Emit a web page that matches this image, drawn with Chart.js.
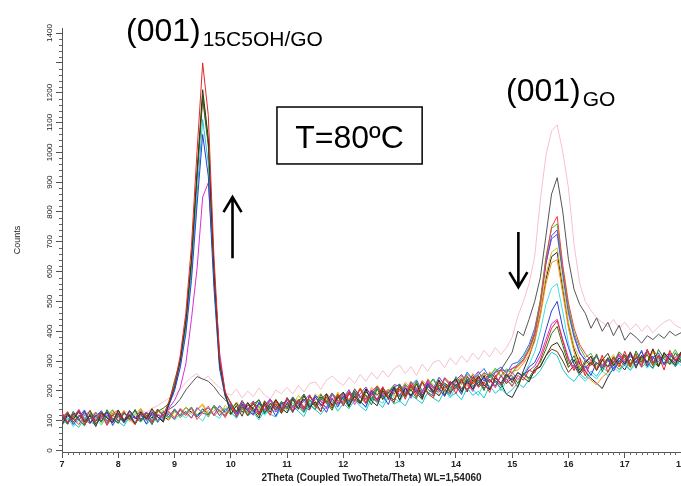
<!DOCTYPE html>
<html><head><meta charset="utf-8">
<script src="https://cdn.jsdelivr.net/npm/chart.js@4.4.1/dist/chart.umd.min.js"></script>
<style>html,body{margin:0;padding:0;background:#fff;}canvas{display:block;}</style>
</head><body>
<canvas id="c" width="681" height="486"></canvas>
<script>
// 2Theta grid (degrees)
const twoTheta = [
7.0,7.1,7.2,7.3,7.4,7.5,7.6,7.7,7.8,7.9,
8.0,8.1,8.2,8.3,8.4,8.5,8.6,8.7,8.8,8.9,
9.0,9.1,9.2,9.3,9.4,9.5,9.6,9.7,9.8,9.9,
10.0,10.1,10.2,10.3,10.4,10.5,10.6,10.7,10.8,10.9,
11.0,11.1,11.2,11.3,11.4,11.5,11.6,11.7,11.8,11.9,
12.0,12.1,12.2,12.3,12.4,12.5,12.6,12.7,12.8,12.9,
13.0,13.1,13.2,13.3,13.4,13.5,13.6,13.7,13.8,13.9,
14.0,14.1,14.2,14.3,14.4,14.5,14.6,14.7,14.8,14.9,
15.0,15.1,15.2,15.3,15.4,15.5,15.6,15.7,15.8,15.9,
16.0,16.1,16.2,16.3,16.4,16.5,16.6,16.7,16.8,16.9,
17.0,17.1,17.2,17.3,17.4,17.5,17.6,17.7,17.8,17.9,
18.0];

// intercalated scans (peak at ~9.5)
const scanRed = [
128,92,115,134,88,110,97,125,84,119,
98,131,106,87,124,112,93,135,117,165,
222,317,460,685,1004,1300,1124,653,313,196,
158,112,147,119,160,124,152,118,166,131,
175,133,170,141,183,150,132,179,147,190,
151,196,163,208,158,192,170,214,176,163,
214,172,221,181,230,190,176,227,199,233,
190,238,201,247,212,229,195,252,221,240,
215,252,236,270,260,304,357,410,435,366,
303,268,312,250,298,271,320,262,309,280,
333,285,324,279,340,292,318,270,336,301,
322];
const scanOlive = [
86,121,104,132,95,117,80,126,109,93,
136,99,120,88,129,105,140,113,95,159,
214,302,434,642,937,1210,1048,613,298,190,
122,150,115,161,136,109,158,128,170,141,
126,172,138,184,145,163,130,189,152,177,
196,148,182,159,205,166,150,201,174,213,
168,209,182,224,176,215,197,236,185,221,
240,196,232,205,251,219,204,243,226,258,
228,262,244,230,271,280,318,352,362,330,
279,305,261,294,316,268,303,326,284,311,
290,331,276,320,295,341,282,329,304,287,
331];
const scanDarkGreen = [
117,90,131,101,83,124,112,95,137,106,
91,127,104,138,99,119,87,131,142,158,
235,299,428,632,922,1190,1031,604,295,189,
161,129,153,116,144,170,123,157,135,165,
140,178,153,129,171,146,188,160,135,181,
174,145,198,160,186,153,207,171,195,160,
222,181,205,174,230,195,183,218,206,191,
222,199,247,214,236,201,255,230,210,248,
251,226,259,243,275,296,340,392,416,352,
289,318,270,301,285,324,265,307,293,331,
312,280,334,298,321,285,339,306,290,328,
299];
const scanBlue = [
102,124,87,113,136,92,118,99,129,84,
117,95,133,107,124,89,128,112,100,153,
201,277,390,570,824,1060,920,546,274,181,
141,117,156,132,121,162,127,149,115,158,
164,131,150,172,139,181,155,128,174,147,
183,152,191,164,147,199,170,185,154,207,
171,210,186,201,178,224,193,208,181,229,
217,188,239,206,228,245,203,234,219,253,
236,261,250,280,295,335,405,468,500,410,
345,290,262,284,252,296,275,311,266,302,
286,318,294,336,281,310,327,289,319,305,
296];
const scanCyan = [
84,107,93,78,111,96,86,119,90,103,
97,82,113,94,120,88,106,99,115,150,
205,285,405,594,862,1110,963,568,282,184,
130,108,140,117,128,103,135,122,112,145,
126,152,131,114,158,137,121,149,165,132,
158,140,170,149,133,175,162,145,181,156,
166,150,187,172,158,196,175,164,201,182,
192,170,210,185,199,176,217,192,208,189,
204,226,211,238,247,268,302,330,318,272,
246,232,258,241,266,249,280,263,294,272,
286,269,301,280,296,274,309,288,299,282,
304];
const scanMagenta = [
124,97,112,138,103,91,128,107,120,95,
133,101,123,92,114,129,98,121,106,142,
168,210,290,440,610,850,898,600,330,195,
156,127,163,140,118,159,135,171,129,148,
173,142,160,135,182,153,166,139,188,158,
165,197,154,182,170,203,161,191,176,212,
186,217,175,209,196,231,184,220,201,188,
234,205,227,198,243,216,236,210,252,229,
262,238,255,268,283,318,372,425,440,372,
310,275,301,268,294,319,277,305,286,322,
297,326,283,311,335,295,318,286,324,300,
330];
const scanBrown = [
111,129,95,118,102,135,89,116,127,100,
122,93,116,132,104,126,96,119,110,157,
211,297,425,627,914,1180,1022,600,293,189,
136,160,129,152,143,118,167,138,157,124,
158,127,171,146,136,180,152,167,141,185,
149,190,171,157,197,178,164,209,183,170,
205,180,214,193,171,226,200,183,219,196,
213,236,198,230,247,207,239,216,251,224,
245,212,258,238,265,284,318,340,332,300,
262,286,254,279,296,270,303,281,314,290,
320,289,311,296,337,302,281,326,309,292,
325];

// GO scans (peak at ~15.8)
const scanGray = [
118,92,126,104,85,121,98,130,111,94,
127,101,115,89,124,108,131,96,119,138,
150,172,203,226,248,240,232,214,188,170,
151,132,168,140,157,125,163,146,171,135,
178,147,162,139,185,154,170,191,149,176,
195,164,207,178,158,201,185,212,170,198,
214,183,220,195,231,205,191,236,210,224,
241,207,233,252,219,246,228,262,271,300,
330,400,385,440,500,580,720,860,915,800,
640,540,490,460,410,445,400,430,385,420,
370,395,380,360,385,372,390,376,400,385,
395];
const scanRedGO = [
96,125,108,87,119,132,101,115,90,124,
135,104,118,94,127,112,140,99,121,131,
108,135,117,142,104,128,149,116,137,110,
148,126,155,133,162,121,150,170,136,158,
141,176,157,134,182,165,148,190,171,154,
193,166,181,207,172,198,216,180,204,189,
213,187,226,201,178,233,209,195,240,218,
206,235,251,222,244,260,229,248,270,242,
275,281,300,340,395,495,640,750,785,620,
495,410,355,325,301,318,286,311,296,325,
303,329,294,317,285,340,311,293,327,306,
321];
const scanGreenGO = [
121,94,110,133,89,105,127,99,114,137,
98,126,111,92,130,118,103,136,122,109,
134,110,127,145,119,138,112,150,128,141,
119,153,139,128,160,144,131,168,150,137,
175,149,163,186,154,140,177,162,191,169,
159,193,176,206,182,167,210,189,199,218,
180,222,203,231,197,215,240,208,226,201,
246,221,257,238,226,262,247,276,251,274,
258,290,312,345,398,505,650,745,760,610,
480,395,345,312,326,289,305,281,314,296,
321,290,316,304,333,298,287,322,309,338,
302];
const scanPurpleGO = [
92,116,105,128,98,120,86,112,131,103,
125,99,117,108,133,101,122,94,129,113,
140,116,131,109,144,125,120,148,117,136,
150,124,141,160,129,155,138,171,146,132,
159,176,143,168,187,151,172,160,193,166,
177,204,168,190,213,183,171,206,192,221,
216,188,230,205,193,237,214,201,244,222,
236,255,224,243,265,232,258,247,271,266,
275,288,305,338,388,490,625,720,740,600,
470,385,330,298,316,288,307,279,300,318,
292,323,304,286,330,311,297,325,290,314,
328];
const scanBlueGO = [
113,90,121,102,127,96,115,134,99,108,
92,124,112,135,103,127,116,98,131,120,
105,139,122,146,113,131,143,120,151,128,
155,122,146,135,166,128,152,173,140,161,
146,180,158,171,149,186,165,143,189,174,
187,160,199,178,203,169,215,192,176,211,
223,194,216,237,200,228,209,246,221,195,
248,226,263,239,255,275,243,266,280,259,
290,296,320,355,410,500,630,710,725,590,
460,380,325,306,292,315,283,303,276,308,
322,288,309,331,295,317,284,313,328,297,
315];
const scanOrangeGO = [
103,131,94,117,108,89,125,113,96,134,
117,95,128,109,139,101,123,114,97,130,
112,142,125,108,137,152,118,133,146,124,
139,158,127,149,166,135,157,142,170,150,
138,173,160,184,149,170,191,155,176,163,
192,170,205,183,162,211,188,200,177,215,
196,228,209,189,235,217,202,242,224,207,
230,249,215,258,238,226,264,242,270,251,
265,270,292,320,365,450,560,630,640,525,
410,330,280,252,236,220,246,262,290,271,
301,278,312,290,325,283,306,319,287,313,
296];
const scanYellowGO = [
98,122,110,136,95,117,128,91,114,126,
109,133,97,121,142,106,125,115,136,102,
130,114,146,121,138,157,126,144,118,151,
131,163,142,128,159,147,135,172,152,140,
172,149,185,161,143,190,168,181,154,196,
162,199,177,210,186,171,218,193,205,182,
221,198,233,210,192,241,219,203,245,228,
211,252,236,224,263,241,255,272,246,270,
258,282,305,330,380,470,590,665,680,560,
430,350,310,288,305,279,312,296,322,284,
316,293,327,305,284,331,298,318,290,325,
311];
const scanCyanGO = [
89,112,80,104,121,93,108,85,116,99,
118,91,106,124,97,113,87,120,104,126,
102,123,109,131,116,98,134,120,108,139,
127,112,145,121,136,150,118,142,129,157,
133,160,145,126,167,151,139,172,154,145,
175,152,186,165,143,191,170,158,198,177,
162,199,180,207,172,190,214,185,201,176,
215,193,226,206,184,229,211,238,200,234,
221,238,256,288,330,400,490,545,560,465,
360,285,250,232,256,240,266,251,279,262,
294,270,288,307,276,299,281,313,289,303,
285];
const scanBlackGO = [
110,88,123,101,131,95,116,127,92,119,
126,100,134,111,96,128,108,139,115,102,
136,118,145,128,112,140,121,151,133,117,
144,131,162,138,154,170,133,158,146,127,
176,148,165,189,155,137,180,163,193,158,
169,198,181,160,207,186,215,172,196,211,
181,222,199,231,185,217,240,203,226,212,
219,241,197,237,215,252,206,244,225,188,
178,215,268,315,372,460,575,650,665,540,
420,340,290,265,242,226,208,246,277,292,
270,306,284,313,292,277,319,288,308,281,
316];
const scanPink = [
125,102,131,110,97,128,115,106,134,117,
108,136,121,114,139,126,142,150,163,176,
186,205,228,246,258,236,250,228,210,195,
185,206,176,199,181,210,186,173,203,190,
212,189,218,196,225,230,205,236,250,232,
218,246,225,255,232,262,240,268,246,274,
286,258,281,252,290,266,296,303,278,311,
288,318,296,327,305,336,314,345,322,345,
380,450,500,560,650,840,990,1072,1092,1000,
880,690,560,500,470,445,430,415,440,410,
430,405,425,400,420,395,415,430,440,420,
410];

const scanList = [scanRed, scanOlive, scanDarkGreen, scanBlue, scanCyan, scanMagenta, scanBrown,
  scanGray, scanRedGO, scanGreenGO, scanPurpleGO, scanBlueGO, scanOrangeGO, scanYellowGO, scanCyanGO, scanBlackGO, scanPink];
const scanColors = ['#e8262a','#34340e','#1f7f1f','#2b3fd6','#1ec8d0','#d630d6','#7a3b12',
  '#555555','#ff3a3a','#35c035','#7a3ddd','#3a5cff','#ff8c1a','#d6c41c','#3fe0e0','#262626','#f7c0cc'];

const xTickValues = [7,8,9,10,11,12,13,14,15,16,17,18];
const yTickValues = [0,100,200,300,400,500,600,700,800,900,1000,1100,1200,1300,1400];
const yHiddenLabels = [1300];
const xTitle = '2Theta (Coupled TwoTheta/Theta) WL=1,54060';
const yTitle = 'Counts';
const peakLabel1 = ['(001)', '15C5OH/GO'];
const peakLabel2 = ['(001)', 'GO'];
const boxLabel = 'T=80ºC';

const FONT = '"Liberation Sans", Arial, Helvetica, sans-serif';

const datasets = scanList.map((arr, i) => ({
  data: arr.map((v, k) => ({x: twoTheta[k], y: v})),
  borderColor: scanColors[i],
  borderWidth: 1,
  pointRadius: 0,
  tension: 0,
  fill: false
}));

const decor = {
  id: 'decor',
  afterDraw(chart) {
    const {ctx, scales: {x, y}, chartArea} = chart;
    ctx.save();
    // minor ticks
    ctx.strokeStyle = '#666';
    ctx.lineWidth = 1;
    ctx.beginPath();
    for (let i = 70; i <= 180; i++) {
      if (i % 10 === 0) continue;
      const p = Math.round(x.getPixelForValue(i / 10)) + 0.5;
      ctx.moveTo(p, chartArea.bottom); ctx.lineTo(p, chartArea.bottom + 3);
    }
    for (let v = 0; v <= 1400; v += 20) {
      if (v % 100 === 0) continue;
      const p = Math.round(y.getPixelForValue(v)) + 0.5;
      ctx.moveTo(chartArea.left - 3, p); ctx.lineTo(chartArea.left, p);
    }
    ctx.stroke();

    ctx.fillStyle = '#000';
    ctx.textAlign = 'left';
    ctx.textBaseline = 'alphabetic';
    const drawLabel = (lab, xv, yv) => {
      const px = x.getPixelForValue(xv), py = y.getPixelForValue(yv);
      ctx.font = '32px ' + FONT;
      ctx.fillText(lab[0], px, py);
      const w = ctx.measureText(lab[0]).width;
      ctx.font = '21px ' + FONT;
      ctx.fillText(lab[1], px + w + 2, py + 5);
    };
    drawLabel(peakLabel1, 8.137, 1373);
    drawLabel(peakLabel2, 14.89, 1172);

    const bx1 = x.getPixelForValue(10.82), bx2 = x.getPixelForValue(13.40);
    const by1 = y.getPixelForValue(1152), by2 = y.getPixelForValue(961);
    ctx.strokeStyle = '#000';
    ctx.lineWidth = 1.5;
    ctx.strokeRect(bx1, by1, bx2 - bx1, by2 - by1);
    ctx.font = '32px ' + FONT;
    ctx.textAlign = 'center';
    ctx.fillText(boxLabel, x.getPixelForValue(12.11), y.getPixelForValue(1015));

    const arrow = (xv, yFrom, yTo) => {
      const ax = x.getPixelForValue(xv);
      const y0 = y.getPixelForValue(yFrom), y1 = y.getPixelForValue(yTo);
      const dir = y1 < y0 ? 1 : -1;
      ctx.lineWidth = 2.6;
      ctx.lineCap = 'butt';
      ctx.beginPath();
      ctx.moveTo(ax, y0); ctx.lineTo(ax, y1);
      ctx.moveTo(ax - 9, y1 + dir * 15); ctx.lineTo(ax, y1); ctx.lineTo(ax + 9, y1 + dir * 15);
      ctx.stroke();
    };
    arrow(10.03, 645, 850);
    arrow(15.11, 733, 548);
    ctx.restore();
  }
};

new Chart(document.getElementById('c'), {
  type: 'line',
  data: {datasets},
  options: {
    responsive: false,
    devicePixelRatio: 1,
    animation: false,
    layout: {autoPadding: false, padding: {left: 0, right: 0, top: 28, bottom: 0}},
    plugins: {legend: {display: false}, tooltip: {enabled: false}},
    scales: {
      x: {
        type: 'linear', min: 7, max: 18,
        afterFit(s) { s.height = 34; s.paddingLeft = 0; s.paddingRight = 0; },
        afterBuildTicks(s) { s.ticks = xTickValues.map(v => ({value: v})); },
        ticks: {font: {family: FONT, size: 9, weight: 'bold'}, color: '#222', padding: 1, maxRotation: 0, autoSkip: false},
        grid: {drawOnChartArea: false, tickLength: 6, color: '#555'},
        border: {display: true, color: '#555', width: 1},
        title: {display: true, text: xTitle, font: {family: FONT, size: 10, weight: 'bold'}, color: '#222', padding: {top: 0, bottom: 2}}
      },
      y: {
        type: 'linear', min: -5, max: 1417,
        afterFit(s) { s.width = 62; s.paddingTop = 0; s.paddingBottom = 0; },
        afterBuildTicks(s) { s.ticks = yTickValues.map(v => ({value: v})); },
        ticks: {font: {family: FONT, size: 8}, color: '#222', minRotation: 90, maxRotation: 90, crossAlign: 'center', padding: -3,
          callback: v => yHiddenLabels.includes(v) ? '' : String(v)},
        grid: {drawOnChartArea: false, tickLength: 6, color: '#555'},
        border: {display: true, color: '#555', width: 1},
        title: {display: true, text: yTitle, font: {family: FONT, size: 9}, color: '#222', padding: {top: 12, bottom: 0}}
      }
    }
  },
  plugins: [decor]
});
</script>
</body></html>
